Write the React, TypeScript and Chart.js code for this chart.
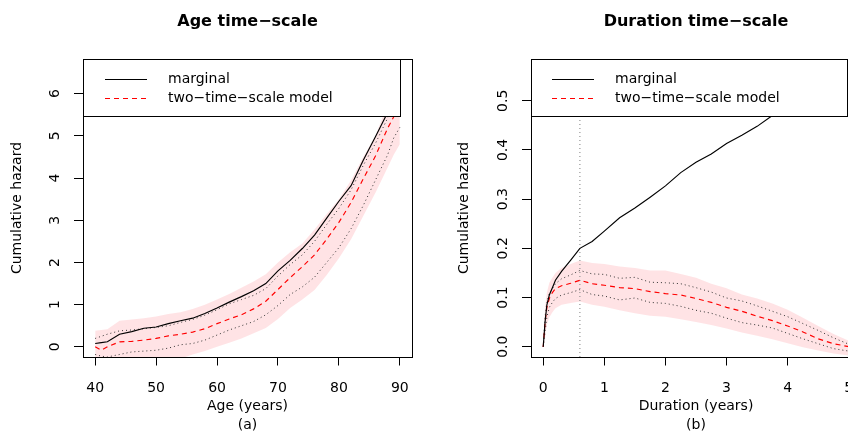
import React, { useEffect, useRef } from "react";
import { Chart, registerables } from "chart.js";

Chart.register(...registerables);

const FONT = "'DejaVu Sans', sans-serif";

// ---------- Panel (a): age time-scale ----------
const ageGrid = [40, 41, 42, 44, 46, 48, 50, 52, 54, 56, 58, 60, 62, 64, 66, 68, 70, 72, 74, 76, 78, 80, 82, 84, 86, 88, 89, 90];
const ageMarginal = [0.08, 0.1, 0.12, 0.3, 0.36, 0.44, 0.47, 0.55, 0.62, 0.68, 0.79, 0.92, 1.06, 1.19, 1.33, 1.5, 1.8, 2.05, 2.33, 2.65, 3.05, 3.45, 3.82, 4.42, 4.98, 5.55, 5.9, 6.3];
const ageModel = [0.0, -0.08, 0.0, 0.12, 0.13, 0.16, 0.2, 0.26, 0.3, 0.35, 0.43, 0.55, 0.66, 0.76, 0.9, 1.08, 1.36, 1.64, 1.9, 2.18, 2.55, 2.95, 3.42, 3.98, 4.52, 5.18, 5.45, 5.7];
const ageModelUpper = [0.2, 0.25, 0.3, 0.38, 0.4, 0.43, 0.46, 0.5, 0.58, 0.65, 0.75, 0.88, 1.02, 1.12, 1.22, 1.38, 1.68, 1.95, 2.18, 2.5, 2.9, 3.28, 3.72, 4.3, 4.82, 5.42, 5.95, 6.55];
const ageModelLower = [-0.18, -0.22, -0.24, -0.18, -0.12, -0.1, -0.08, -0.03, 0.05, 0.08, 0.16, 0.28, 0.4, 0.5, 0.6, 0.76, 0.98, 1.24, 1.42, 1.65, 2.0, 2.35, 2.8, 3.35, 3.95, 4.55, 4.95, 5.2];
const ageBandUpper = [0.38, 0.4, 0.42, 0.62, 0.65, 0.68, 0.72, 0.78, 0.82, 0.9, 1.0, 1.12, 1.25, 1.4, 1.55, 1.72, 2.0, 2.24, 2.45, 2.78, 3.15, 3.5, 3.95, 4.5, 5.0, 5.75, 6.3, 7.2];
const ageBandLower = [-0.45, -0.5, -0.5, -0.45, -0.42, -0.4, -0.38, -0.33, -0.28, -0.18, -0.1, 0.0, 0.1, 0.2, 0.32, 0.45, 0.66, 0.92, 1.12, 1.35, 1.7, 2.1, 2.55, 3.1, 3.65, 4.25, 4.55, 4.8];
const ageTicksX = [40, 50, 60, 70, 80, 90];
const ageTicksY = [0, 1, 2, 3, 4, 5, 6];

// ---------- Panel (b): duration time-scale ----------
const durGrid = [0, 0.03, 0.06, 0.1, 0.15, 0.2, 0.3, 0.45, 0.6, 0.8, 1.0, 1.25, 1.5, 1.75, 2.0, 2.25, 2.5, 2.75, 3.0, 3.25, 3.5, 3.75, 4.0, 4.25, 4.5, 4.75, 5.0];
const durMarginal = [0, 0.05, 0.085, 0.105, 0.12, 0.135, 0.153, 0.176, 0.2, 0.214, 0.235, 0.262, 0.282, 0.304, 0.327, 0.354, 0.375, 0.392, 0.413, 0.43, 0.448, 0.47, 0.49, 0.508, 0.525, 0.54, 0.555];
const durModel = [0, 0.05, 0.08, 0.098, 0.11, 0.118, 0.124, 0.129, 0.135, 0.128, 0.125, 0.12, 0.118, 0.112, 0.108, 0.105, 0.098, 0.09, 0.08, 0.072, 0.062, 0.053, 0.042, 0.03, 0.016, 0.006, 0.0];
const durModelUpper = [0, 0.06, 0.09, 0.108, 0.118, 0.128, 0.138, 0.146, 0.155, 0.148, 0.147, 0.139, 0.141, 0.131, 0.13, 0.128, 0.12, 0.111, 0.099, 0.093, 0.083, 0.072, 0.061, 0.047, 0.033, 0.018, 0.005];
const durModelLower = [0, 0.03, 0.06, 0.08, 0.09, 0.098, 0.105, 0.11, 0.116, 0.106, 0.103, 0.095, 0.099, 0.09, 0.088, 0.082, 0.074, 0.068, 0.058, 0.049, 0.044, 0.038, 0.027, 0.016, 0.006, -0.004, -0.009];
const durBandUpper = [0, 0.08, 0.11, 0.13, 0.14, 0.15, 0.16, 0.168, 0.175, 0.17, 0.168, 0.163, 0.16, 0.155, 0.155, 0.148, 0.14, 0.128, 0.119, 0.106, 0.098, 0.088, 0.075, 0.059, 0.042, 0.026, 0.012];
const durBandLower = [0, 0.02, 0.045, 0.06, 0.07, 0.078, 0.085, 0.089, 0.092, 0.085, 0.081, 0.074, 0.068, 0.063, 0.061, 0.056, 0.05, 0.044, 0.037, 0.029, 0.022, 0.015, 0.007, -0.001, -0.008, -0.014, -0.018];
const durRefLine = [0.6];
const durTicksX = [0, 1, 2, 3, 4, 5];
const durTicksY = [0, 0.1, 0.2, 0.3, 0.4, 0.5];

const legendLabels = ["marginal", "two\u2212time\u2212scale model"];

const BAND = "rgba(255,196,200,0.48)";

type Panel = {
  title: string;
  xTitle: string[];
  yTitle: string;
  grid: number[];
  marginal: number[];
  model: number[];
  modelHi: number[];
  modelLo: number[];
  bandHi: number[];
  bandLo: number[];
  refX?: number[];
  xMin: number;
  xMax: number;
  yMin: number;
  yMax: number;
  xTicks: number[];
  yTicks: number[];
  yFmt: (v: number) => string;
  width: number;
  plotLeft: number;
  plotRight: number;
  yTickPad: number;
  yTitlePad: number;
  legendW: number;
  legendLine: [number, number];
  legendText: number;
};

const panelA: Panel = {
  title: "Age time\u2212scale",
  xTitle: ["Age (years)", "(a)"],
  yTitle: "Cumulative hazard",
  grid: ageGrid,
  marginal: ageMarginal,
  model: ageModel,
  modelHi: ageModelUpper,
  modelLo: ageModelLower,
  bandHi: ageBandUpper,
  bandLo: ageBandLower,
  xMin: 38,
  xMax: 92,
  yMin: -0.24,
  yMax: 6.82,
  xTicks: ageTicksX,
  yTicks: ageTicksY,
  yFmt: (v) => String(v),
  width: 424,
  plotLeft: 83,
  plotRight: 412,
  yTickPad: 14.2,
  yTitlePad: 9.1,
  legendW: 317,
  legendLine: [22, 64],
  legendText: 85,
};

const panelB: Panel = {
  title: "Duration time\u2212scale",
  xTitle: ["Duration (years)", "(b)"],
  yTitle: "Cumulative hazard",
  grid: durGrid,
  marginal: durMarginal,
  model: durModel,
  modelHi: durModelUpper,
  modelLo: durModelLower,
  bandHi: durBandUpper,
  bandLo: durBandLower,
  refX: durRefLine,
  xMin: -0.2,
  xMax: 5.2,
  yMin: -0.021,
  yMax: 0.585,
  xTicks: durTicksX,
  yTicks: durTicksY,
  yFmt: (v) => v.toFixed(1),
  width: 450,
  plotLeft: 107,
  plotRight: 437,
  yTickPad: 7.6,
  yTitlePad: 31.6,
  legendW: 316,
  legendLine: [21, 63],
  legendText: 84,
};

const boxPlugin = {
  id: "rbox",
  afterDraw(chart: any) {
    const { ctx, chartArea: a } = chart;
    ctx.save();
    ctx.strokeStyle = "#000";
    ctx.lineWidth = 1;
    ctx.strokeRect(Math.round(a.left) + 0.5, Math.round(a.top) + 0.5, Math.round(a.right - a.left), Math.round(a.bottom - a.top));
    ctx.restore();
  },
};

function makeLegendPlugin(p: Panel) {
  return {
    id: "rlegend",
    afterDatasetsDraw(chart: any) {
      const { ctx, chartArea: a } = chart;
      const x0 = Math.round(a.left) + 0.5;
      const y0 = Math.round(a.top) + 0.5;
      ctx.save();
      ctx.fillStyle = "#fff";
      ctx.fillRect(x0, y0, p.legendW, 57);
      ctx.strokeStyle = "#000";
      ctx.lineWidth = 1;
      ctx.strokeRect(x0, y0, p.legendW, 57);
      const rows = [
        { label: legendLabels[0], color: "#000", dash: [] as number[] },
        { label: legendLabels[1], color: "#ff0000", dash: [5, 4] },
      ];
      ctx.font = `14px ${FONT}`;
      ctx.textBaseline = "middle";
      ctx.textAlign = "left";
      rows.forEach((r, i) => {
        const y = Math.round(a.top + 20 + i * 18.7) + 0.5;
        ctx.beginPath();
        ctx.setLineDash(r.dash);
        ctx.strokeStyle = r.color;
        ctx.lineWidth = 1.1;
        ctx.moveTo(a.left + p.legendLine[0], y);
        ctx.lineTo(a.left + p.legendLine[1], y);
        ctx.stroke();
        ctx.setLineDash([]);
        ctx.fillStyle = "#000";
        ctx.fillText(r.label, a.left + p.legendText, y);
      });
      ctx.restore();
    },
  };
}

function makeConfig(p: Panel): any {
  const pts = (ys: number[]) => p.grid.map((x, i) => ({ x, y: ys[i] }));
  // higher "order" draws first (underneath)
  const datasets: any[] = [
    { label: "band upper", order: 10, data: pts(p.bandHi), borderWidth: 0, borderColor: "rgba(0,0,0,0)", pointRadius: 0, fill: "+1", backgroundColor: BAND },
    { label: "band lower", order: 10, data: pts(p.bandLo), borderWidth: 0, borderColor: "rgba(0,0,0,0)", pointRadius: 0, fill: false },
  ];
  if (p.refX) {
    datasets.push({
      label: "reference",
      order: 5,
      data: [{ x: p.refX[0], y: p.yMin }, { x: p.refX[0], y: p.yMax }],
      borderColor: "#8c8c8c",
      borderWidth: 1.1,
      borderDash: [1.1, 2.9],
      pointRadius: 0,
      fill: false,
    });
  }
  datasets.push(
    { label: "upper", order: 3, data: pts(p.modelHi), borderColor: "#333", borderWidth: 1, borderDash: [1, 3], pointRadius: 0, fill: false },
    { label: "lower", order: 3, data: pts(p.modelLo), borderColor: "#333", borderWidth: 1, borderDash: [1, 3], pointRadius: 0, fill: false },
    { label: legendLabels[1], order: 2, data: pts(p.model), borderColor: "#ff0000", borderWidth: 1.15, borderDash: [5, 4], pointRadius: 0, fill: false },
    { label: legendLabels[0], order: 1, data: pts(p.marginal), borderColor: "#000", borderWidth: 1.15, pointRadius: 0, fill: false }
  );

  const tickFont = { family: FONT, size: 14 };
  return {
    type: "line",
    data: { datasets },
    options: {
      animation: false,
      responsive: false,
      devicePixelRatio: 1,
      events: [],
      layout: { padding: { left: 0, right: p.width - p.plotRight, top: 0, bottom: 0 } },
      elements: { line: { tension: 0 } },
      plugins: {
        legend: { display: false },
        tooltip: { enabled: false },
        filler: { drawTime: "beforeDatasetsDraw" },
        title: {
          display: true,
          text: p.title,
          fullSize: false,
          color: "#000",
          font: { family: FONT, size: 16, weight: "bold", lineHeight: 1.2 },
          padding: { top: 12, bottom: 27.8 },
        },
      },
      scales: {
        x: {
          type: "linear",
          min: p.xMin,
          max: p.xMax,
          afterFit: (s: any) => {
            s.height = 78;
          },
          afterBuildTicks: (s: any) => {
            s.ticks = p.xTicks.map((v) => ({ value: v }));
          },
          grid: { drawOnChartArea: false, drawTicks: true, tickLength: 8.5, tickColor: "#000", tickWidth: 1 },
          border: { display: false },
          ticks: { color: "#000", font: tickFont, padding: 14.4, maxRotation: 0, autoSkip: false, callback: (v: any) => String(v) },
          title: {
            display: true,
            text: p.xTitle,
            color: "#000",
            font: { family: FONT, size: 14, lineHeight: 18.5 / 14 },
            padding: { top: 0, bottom: 0.75 },
          },
        },
        y: {
          type: "linear",
          position: "left",
          min: p.yMin,
          max: p.yMax,
          afterFit: (s: any) => {
            s.width = p.plotLeft;
          },
          afterBuildTicks: (s: any) => {
            s.ticks = p.yTicks.map((v) => ({ value: v }));
          },
          grid: { drawOnChartArea: false, drawTicks: true, tickLength: 9, tickColor: "#000", tickWidth: 1 },
          border: { display: false },
          ticks: {
            color: "#000",
            font: tickFont,
            padding: p.yTickPad,
            minRotation: 90,
            maxRotation: 90,
            crossAlign: "center",
            autoSkip: false,
            callback: (v: any) => p.yFmt(Number(v)),
          },
          title: {
            display: true,
            text: p.yTitle,
            color: "#000",
            font: { family: FONT, size: 14, lineHeight: 1.2 },
            padding: { top: p.yTitlePad, bottom: 0 },
          },
        },
      },
    },
    plugins: [makeLegendPlugin(p), boxPlugin],
  };
}

function PanelChart({ panel, left }: { panel: Panel; left: number }) {
  const ref = useRef<HTMLCanvasElement | null>(null);
  useEffect(() => {
    if (!ref.current) return;
    const chart = new Chart(ref.current, makeConfig(panel));
    return () => chart.destroy();
  }, [panel]);
  return (
    <canvas
      ref={ref}
      width={panel.width}
      height={435}
      style={{ position: "absolute", left, top: 0, width: panel.width, height: 435 }}
    />
  );
}

export default function App() {
  return (
    <div
      style={{
        position: "fixed",
        left: 0,
        top: 0,
        width: 848,
        height: 435,
        overflow: "hidden",
        background: "#fff",
      }}
    >
      <PanelChart panel={panelA} left={0} />
      <PanelChart panel={panelB} left={424} />
    </div>
  );
}
